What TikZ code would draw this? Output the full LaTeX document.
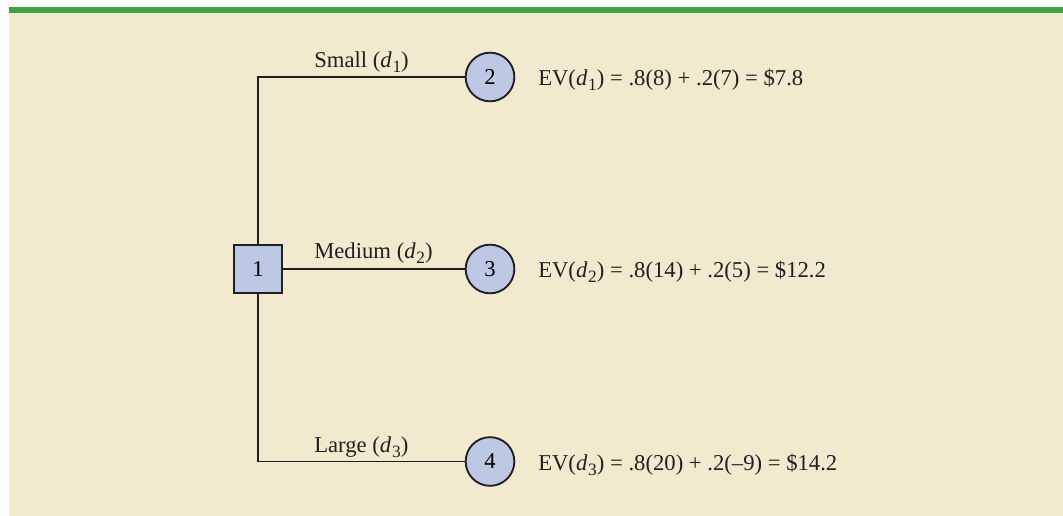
\documentclass[tikz,border=0pt]{standalone}
\usepackage{fontspec}
\setmainfont{Liberation Serif}
\usepackage{xcolor}
\usepackage{tikz}
\usetikzlibrary{positioning}
\definecolor{cgreen}{HTML}{43A243}
\definecolor{cbeige}{HTML}{F1EACF}
\definecolor{cnode}{HTML}{BCC8E4}
\definecolor{cink}{HTML}{231F20}
\newcommand{\dsub}[1]{\textit{d}\kern0.6pt\raisebox{-0.45ex}{\fontsize{13}{13}\selectfont #1}}
\tikzset{
  decbox/.style={rectangle,draw=cink,fill=cnode,line width=1.1pt,
                 minimum size=36pt,inner sep=0pt},
  chance/.style={circle,draw=cink,fill=cnode,line width=1.4pt,
                 minimum size=36.5pt,inner sep=0pt},
  branch/.style={draw=cink,line width=1.1pt},
  blbl/.style={anchor=base west,inner sep=0pt,text=cink},
  evtxt/.style={anchor=base west,inner sep=0pt,text=cink},
}

\begin{document}
\begin{tikzpicture}[x=0.75pt,y=-0.75pt,font=\fontsize{17}{20}\selectfont]

% ================= BACKGROUND =================
\useasboundingbox (0,0) rectangle (1063,516);
\fill[white] (0,0) rectangle (1063,516);
\fill[cbeige] (9,13) rectangle (1063,516);
\fill[cgreen] (9,7) rectangle (1063,13);

% ================= NODES =================
\node[decbox] (n1) at (258,269) {1};
\node[chance] (n2) at (490,77) {2};
\node[chance] (n3) at (490,269) {3};
\node[chance] (n4) at (490,461.5) {4};

% ================= BRANCHES =================
\draw[branch] (n1) |- (n2);
\draw[branch] (n1) -- (n3);
\draw[branch] (n1) |- (n4);
\node[blbl] (l2) at (314,68) {Small (\dsub{1})};
\node[blbl] (l3) at (314,259) {Medium (\dsub{2})};
\node[blbl] (l4) at (314,452.5) {Large (\dsub{3})};

% ================= EXPECTED VALUES =================
\node[evtxt] (ev2) at (538,86) {EV(\dsub{1}) = .8(8) + .2(7) = \$7.8};
\node[evtxt] (ev3) at (538,278) {EV(\dsub{2}) = .8(14) + .2(5) = \$12.2};
\node[evtxt] (ev4) at (538,470.5) {EV(\dsub{3}) = .8(20) + .2(--9) = \$14.2};

\end{tikzpicture}
\end{document}
